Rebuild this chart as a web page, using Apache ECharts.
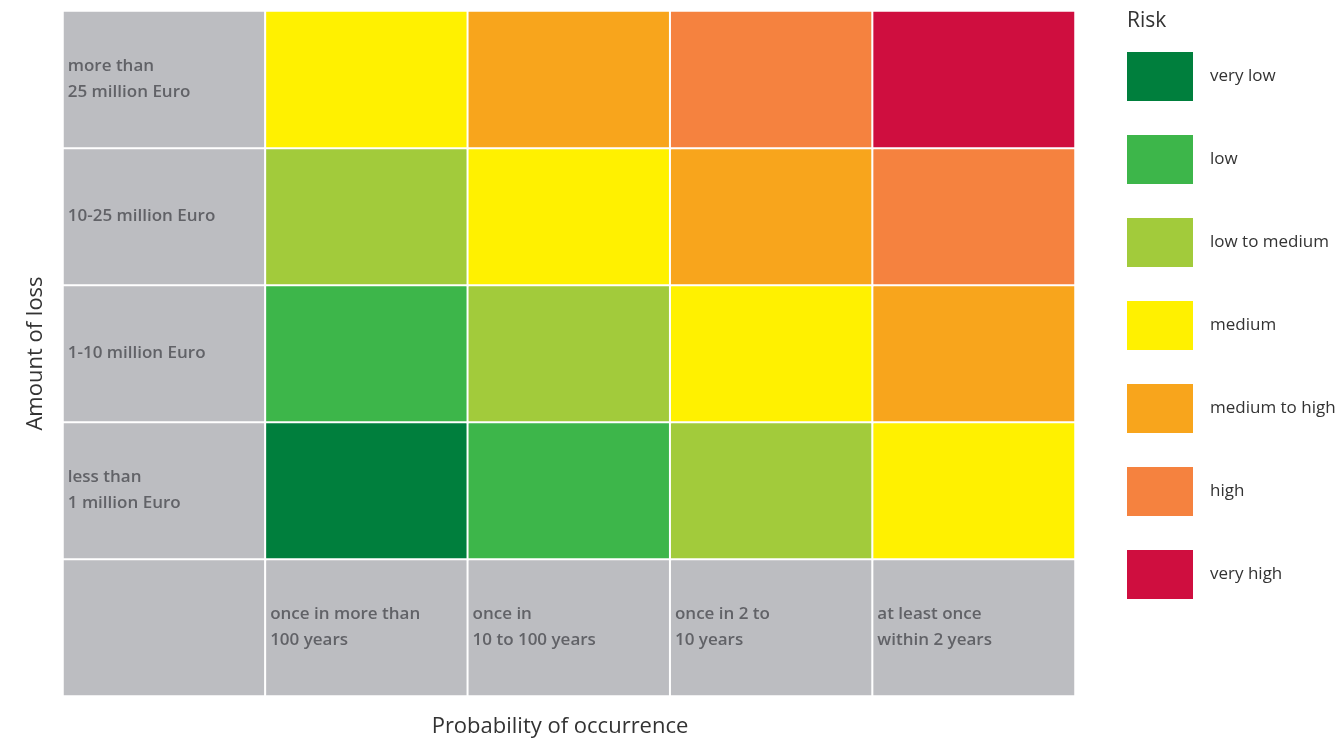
<!DOCTYPE html>
<html>
<head>
<meta charset="utf-8">
<script src="https://cdn.jsdelivr.net/npm/echarts@6/dist/echarts.min.js"></script>
<style>html,body{margin:0;padding:0;background:#fff}#c{width:1339px;height:739px}</style>
</head>
<body>
<div id="c"></div>
<script>
// ---- data ----
const probLabels = ['once in more than\n100 years', 'once in\n10 to 100 years', 'once in 2 to\n10 years', 'at least once\nwithin 2 years'];
const lossLabels = ['less than\n1 million Euro', '1-10 million Euro', '10-25 million Euro', 'more than\n25 million Euro'];
const riskLevels = ['very low', 'low', 'low to medium', 'medium', 'medium to high', 'high', 'very high'];
const riskColors = ['#007f3d', '#3db64a', '#a2cb3b', '#fff100', '#f8a51c', '#f5823f', '#cf0e3f'];
// risk index per loss row (bottom to top) and probability column (left to right)
const riskLessThan1M = [0, 1, 2, 3];
const risk1to10M = [1, 2, 3, 4];
const risk10to25M = [2, 3, 4, 5];
const riskMoreThan25M = [3, 4, 5, 6];
const riskRows = [riskLessThan1M, risk1to10M, risk10to25M, riskMoreThan25M];

// ---- build heatmap data ----
const cells = [];
cells.push({value: [0, 0, -1], text: ''});
probLabels.forEach((t, i) => cells.push({value: [i + 1, 0, -1], text: t}));
lossLabels.forEach((t, j) => cells.push({value: [0, j + 1, -1], text: t}));
riskRows.forEach((row, j) => row.forEach((r, i) => cells.push({value: [i + 1, j + 1, r], text: ''})));

const chart = echarts.init(document.getElementById('c'));
const FONT = '"Open Sans", "Noto Sans", sans-serif';
chart.setOption({
  animation: false,
  textStyle: {fontFamily: FONT},
  title: {
    text: 'Risk', left: 1122, top: 6,
    textStyle: {fontFamily: FONT, fontSize: 21, fontWeight: 'normal', color: '#333'}
  },
  grid: {left: 63, right: 264, top: 11, bottom: 43, outerBoundsMode: 'none', containLabel: false},
  xAxis: {
    type: 'category', data: ['', ...probLabels.map((_, i) => 'p' + i)],
    axisLine: {show: false}, axisTick: {show: false}, axisLabel: {show: false}, splitLine: {show: false},
    name: 'Probability of occurrence', nameLocation: 'middle', nameGap: 20,
    nameTextStyle: {fontFamily: FONT, fontSize: 22, color: '#333', padding: [0, 18, 0, 0]}
  },
  yAxis: {
    type: 'category', data: ['', ...lossLabels.map((_, i) => 'l' + i)],
    axisLine: {show: false}, axisTick: {show: false}, axisLabel: {show: false}, splitLine: {show: false},
    name: 'Amount of loss', nameLocation: 'middle', nameGap: 16,
    nameTextStyle: {fontFamily: FONT, fontSize: 22, color: '#333'}
  },
  visualMap: {
    type: 'piecewise', seriesIndex: 0, dimension: 2,
    orient: 'vertical', inverse: true, align: 'left',
    left: 1112, top: 37,
    itemWidth: 66, itemHeight: 49, itemGap: 34, textGap: 17,
    itemSymbol: 'rect', selectedMode: false, hoverLink: false,
    pieces: riskLevels.map((l, i) => ({value: i, label: l, color: riskColors[i]})),
    outOfRange: {color: '#bcbdc1'},
    textStyle: {fontFamily: FONT, fontSize: 17, color: '#333'}
  },
  series: [{
    type: 'heatmap',
    data: cells,
    itemStyle: {borderColor: '#ffffff', borderWidth: 2},
    emphasis: {disabled: true},
    label: {
      show: true, position: 'insideLeft', distance: 6,
      formatter: p => p.data.text,
      fontFamily: FONT, fontSize: 17, fontWeight: 600, color: '#616267', lineHeight: 26
    }
  }]
});
</script>
</body>
</html>
